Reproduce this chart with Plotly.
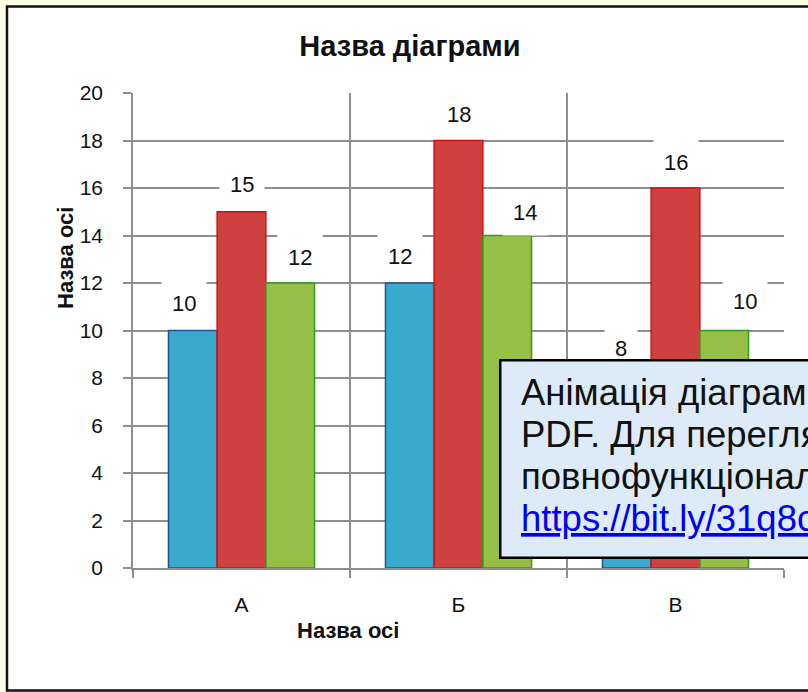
import plotly.graph_objects as go

# ---- data ----
categories = ["А", "Б", "В"]
series_names = ["Ряд 1", "Ряд 2", "Ряд 3"]
series1 = [10, 12, 8]
series2 = [15, 18, 16]
series3 = [12, 14, 10]
y_ticks = [0, 2, 4, 6, 8, 10, 12, 14, 16, 18, 20]
chart_title = "Назва діаграми"
x_title = "Назва осі"
y_title = "Назва осі"
callout_lines = ["Анімація діаграм", "PDF. Для перегля", "повнофункціонал", "https://bit.ly/31q8c"]

# ---- style ----
W, H = 808, 692
ML, MR, MT, MB = 133, 24, 93, 124
PW, PH = W - ML - MR, H - MT - MB
FONT = "Liberation Sans, Arial, sans-serif"
GRID = "#8f8f8f"
fills = ["#38AACB", "#CF4040", "#97BE47"]
edges = ["#24509A", "#D01010", "#2E9A1E"]
# label nudges (px) per series, per category
nudge_x = [[-9, -10, -6], [0, 0, 0], [10, 18, 21]]
nudge_y = [[27, 27, 30], [27, 26, 26], [26, 23, 29]]
bar_offset = 48.7
callout_line_y = [392, 434, 476, 518]


def px_x(p):
    return (p - ML) / PW


def px_y(p):
    return (H - MB - p) / PH


fig = go.Figure()
all_series = [series1, series2, series3]
for name, vals, fc, ec in zip(series_names, all_series, fills, edges):
    fig.add_trace(go.Bar(
        x=categories, y=vals, name=name,
        marker=dict(color=fc, line=dict(color=ec, width=1.5)),
        hoverinfo="skip",
    ))

annotations = []
for i, vals in enumerate(all_series):
    for j, v in enumerate(vals):
        annotations.append(dict(
            x=categories[j], y=v, xref="x", yref="y",
            text=str(v), showarrow=False,
            xshift=(i - 1) * bar_offset + nudge_x[i][j], yshift=nudge_y[i][j],
            yanchor="middle", xanchor="center",
            bgcolor="white", borderpad=10,
            font=dict(family=FONT, size=22, color="#111111"),
        ))

# axis titles
annotations.append(dict(
    x=px_x(348), y=px_y(630), xref="paper", yref="paper", text="<b>%s</b>" % x_title,
    showarrow=False, xanchor="center", yanchor="middle",
    font=dict(family=FONT, size=22, color="#111111"),
))
annotations.append(dict(
    x=px_x(65), y=px_y(258), xref="paper", yref="paper", text="<b>%s</b>" % y_title,
    showarrow=False, xanchor="center", yanchor="middle", textangle=-90,
    font=dict(family=FONT, size=22, color="#111111"),
))

# callout box
annotations.append(dict(
    x=px_x(499), y=px_y(359), xref="paper", yref="paper",
    text=" ", showarrow=False, xanchor="left", yanchor="top",
    width=420, height=195,
    bgcolor="#DDEBF8", bordercolor="#000000", borderwidth=2.5, borderpad=0,
    font=dict(family=FONT, size=10),
))
for k, line in enumerate(callout_lines):
    if k == 3:
        line = '<span style="color:#0000EE;text-decoration:underline">%s</span>' % line
    annotations.append(dict(
        x=px_x(519), y=px_y(callout_line_y[k]), xref="paper", yref="paper",
        text=line, showarrow=False, xanchor="left", yanchor="middle", align="left",
        font=dict(family=FONT, size=36.5, color="#111111"),
    ))

fig.update_layout(
    width=W, height=H,
    margin=dict(l=ML, r=MR, t=MT, b=MB, pad=0),
    paper_bgcolor="#FFFEE6", plot_bgcolor="white",
    barmode="group", bargap=0.327, bargroupgap=0,
    showlegend=False,
    title=dict(text="<b>%s</b>" % chart_title, x=410 / W, xref="container",
               y=1 - 46 / H, yref="container", xanchor="center", yanchor="middle",
               font=dict(family=FONT, size=29, color="#111111")),
    font=dict(family=FONT, color="#111111"),
    annotations=annotations,
    shapes=[dict(type="rect", xref="paper", yref="paper", layer="below",
                 x0=px_x(7), x1=px_x(900), y0=px_y(690.5), y1=px_y(6.5),
                 fillcolor="white", line=dict(color="#111111", width=2.5))],
)
fig.update_xaxes(
    type="category", range=[-0.5, 2.5], tickson="boundaries",
    showgrid=True, gridcolor=GRID, gridwidth=1.5,
    showline=True, linecolor=GRID, linewidth=1.5,
    ticks="outside", ticklen=8, tickcolor=GRID, tickwidth=1.5,
    tickfont=dict(family=FONT, size=21, color="#111111"), ticklabelstandoff=17,
)
fig.update_yaxes(
    range=[0, 20], tickvals=y_ticks,
    showgrid=True, gridcolor=GRID, gridwidth=1.5, zeroline=False,
    showline=True, linecolor=GRID, linewidth=1.5,
    ticks="outside", ticklen=8, tickcolor=GRID, tickwidth=1.5,
    tickfont=dict(family=FONT, size=21, color="#111111"), ticklabelstandoff=16,
)

fig.write_html("out.html", config={"displayModeBar": False},
               post_script="document.body.style.margin='0';")
